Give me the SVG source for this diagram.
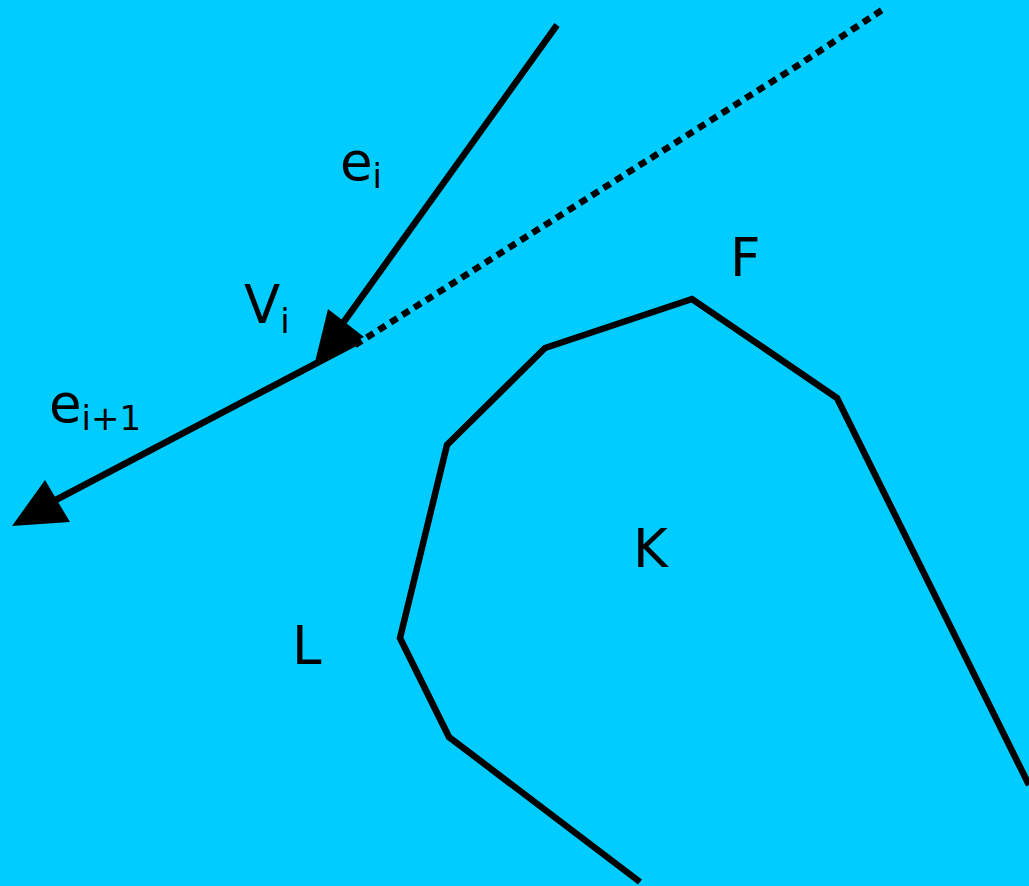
<svg xmlns="http://www.w3.org/2000/svg" width="1029" height="886" viewBox="0 0 1029 886">
<style>
.ln{fill:none;stroke:#000;stroke-width:6.5;stroke-linejoin:miter}
.t{font-family:"DejaVu Sans",sans-serif;font-size:53px;fill:#000}
.s{font-size:34px}
</style>
<rect width="1029" height="886" fill="#00CCFF"/>
<g id="connectors">
<polyline class="ln" points="557,25 338,330"/>
<polygon points="328,309 364,337 315,362" fill="#000"/>
<polyline class="ln" points="355,343 50,503"/>
<polygon points="45,480 70,522 12,526" fill="#000"/>
<polyline class="ln" points="355,345 800,64 882,10" stroke-dasharray="8,6"/>
</g>
<g id="K">
<polyline class="ln" points="640,882 449,737 400,638 447,445 545,348 692,299 837,398 1029,785"/>
<text class="t" x="633" y="567">K</text>
</g>
<g id="labels">
<text class="t" x="340" y="180">e<tspan class="s" dy="8">i</tspan></text>
<text class="t" x="244" y="323">V<tspan class="s" dy="10">i</tspan></text>
<text class="t" x="49" y="422">e<tspan class="s" dy="8">i+1</tspan></text>
<text class="t" x="730" y="276">F</text>
<text class="t" x="292" y="664">L</text>
</g>
</svg>
